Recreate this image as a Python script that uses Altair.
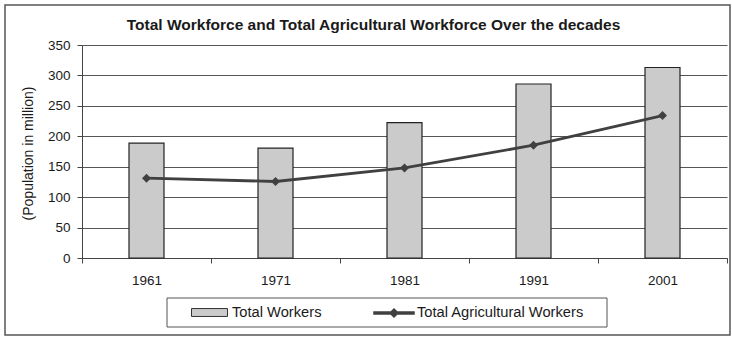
import altair as alt
import pandas as pd

years = ["1961", "1971", "1981", "1991", "2001"]
total_workers = [188.7, 180.4, 222.5, 285.9, 313.0]
agri_workers = [131.1, 125.7, 148.0, 185.3, 234.1]

df = pd.DataFrame({
    "year": years,
    "total": total_workers,
    "agri": agri_workers,
    "s1": ["Total Workers"] * 5,
    "s2": ["Total Agricultural Workers"] * 5,
})

FONT = "Liberation Sans"
INK = "#1a1a1a"

x_axis = alt.Axis(labelAngle=0, tickBand="extent", ticks=True, tickSize=5,
                  tickColor="#444", domainColor="#444", labelPadding=10,
                  labelFontSize=13.5, labelColor=INK, grid=False)
x_scale = alt.Scale(paddingInner=0, paddingOuter=0)

y_axis = alt.Axis(values=[0, 50, 100, 150, 200, 250, 300, 350], tickSize=5,
                  tickColor="#444", domainColor="#444", gridColor="#555",
                  grid=True, gridWidth=1, labelPadding=7, labelFontSize=13.5,
                  labelColor=INK, labelOverlap=False,
                  title="(Population in million)", titleFontSize=14,
                  titleFontWeight="normal", titleColor=INK, titleX=-54, titleY=108,
                  titleAngle=270, titleAlign="center", titleBaseline="middle")
y_scale = alt.Scale(domain=[0, 350], nice=False)


def X():
    return alt.X("year:N", sort=years, title=None, scale=x_scale, axis=x_axis)


def Y(field):
    return alt.Y(field, title="(Population in million)", scale=y_scale, axis=y_axis)


bars = alt.Chart(df).mark_bar(size=35, stroke="#222", strokeWidth=1.2).encode(
    x=X(),
    y=Y("total:Q"),
    fill=alt.Fill("s1:N", scale=alt.Scale(range=["#cbcbcb"]),
                  legend=alt.Legend(title=None, orient="none", legendX=109, legendY=249,
                                    symbolType="M-1,-0.22H1V0.22H-1Z", symbolSize=1296,
                                    symbolStrokeColor="#333", symbolStrokeWidth=1,
                                    labelFontSize=14.7, labelColor=INK, labelOffset=4,
                                    labelLimit=400, padding=0)),
)

line = alt.Chart(df).mark_line(strokeWidth=2.8).encode(
    x=X(),
    y=Y("agri:Q"),
    stroke=alt.Stroke("s2:N", scale=alt.Scale(range=["#404040"]),
                      legend=alt.Legend(title=None, orient="none", legendX=291, legendY=247,
                                        symbolType="M-1,-0.05H1V0.05H-1Z M0,-0.2L0.2,0L0,0.2L-0.2,0Z",
                                        symbolSize=1600, symbolFillColor="#404040",
                                        symbolStrokeWidth=1.5,
                                        labelFontSize=14.7, labelColor=INK, labelOffset=2,
                                        labelLimit=400, padding=0)),
)

points = alt.Chart(df).mark_point(shape="diamond", filled=True, size=80,
                                  color="#404040", opacity=1).encode(
    x=X(),
    y=Y("agri:Q"),
)

frame_df = pd.DataFrame({"a": [0]})
legend_box = alt.Chart(frame_df).mark_rect(fill=None, stroke="#555", strokeWidth=1).encode(
    x=alt.value(85), x2=alt.value(525), y=alt.value(253), y2=alt.value(282))
outer_box = alt.Chart(frame_df).mark_rect(fill=None, stroke="#555", strokeWidth=1.5).encode(
    x=alt.value(-77), x2=alt.value(648), y=alt.value(-40), y2=alt.value(290))

chart = alt.layer(bars, line, points, legend_box, outer_box).resolve_scale(
    fill="independent", stroke="independent"
).properties(
    width=645, height=213,
    autosize=alt.AutoSizeParams(type="none"),
    padding={"left": 82, "top": 45, "right": 5, "bottom": 81},
    title=alt.Title("Total Workforce and Total Agricultural Workforce Over the decades",
                    fontSize=15.5, fontWeight="bold", color=INK, font=FONT,
                    anchor="middle", dx=-31, offset=-29),
).configure(font=FONT, background="white").configure_view(stroke=None).configure_axis(
    labelFontSize=13.5, labelColor=INK, tickColor="#444", domainColor="#444"
)

chart.save("out.html", embed_options={"renderer": "svg", "actions": False})
